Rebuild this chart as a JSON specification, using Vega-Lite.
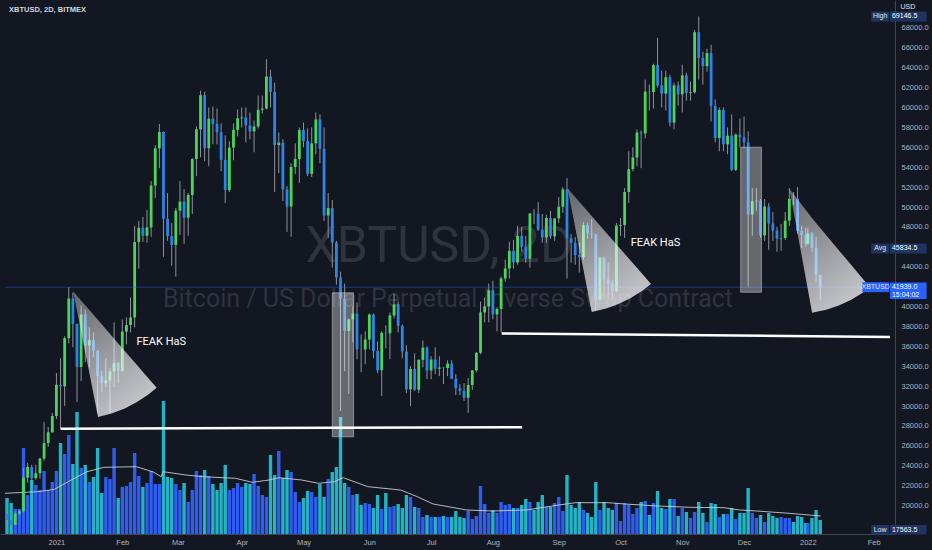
{
"$schema":"https://vega.github.io/schema/vega-lite/v6.json",
"width":895,"height":534,
"autosize":{"type":"none"},
"padding":{"left":0,"top":0,"right":37,"bottom":16},
"background":"#131722",
"config":{"view":{"stroke":null},"font":"Liberation Sans",
 "axis":{"grid":false,"ticks":false,"title":null,"labelOverlap":false,"labelFlush":false,"labelBound":false}},
"datasets":{
"candles":[
{"t":"2020-12-08","o":19170,"h":19300,"l":17950,"c":18550,"v":360},
{"t":"2020-12-10","o":18550,"h":18600,"l":17564,"c":18060,"v":310},
{"t":"2020-12-12","o":18060,"h":19400,"l":18000,"c":19170,"v":250},
{"t":"2020-12-14","o":19170,"h":19600,"l":19000,"c":19430,"v":250},
{"t":"2020-12-16","o":19430,"h":23800,"l":19300,"c":22800,"v":860},
{"t":"2020-12-18","o":22800,"h":24300,"l":22300,"c":23870,"v":390},
{"t":"2020-12-20","o":23870,"h":24100,"l":21900,"c":22750,"v":540},
{"t":"2020-12-22","o":22750,"h":24100,"l":22600,"c":23250,"v":490},
{"t":"2020-12-24","o":23250,"h":24800,"l":22700,"c":24710,"v":440},
{"t":"2020-12-26","o":24710,"h":28400,"l":24500,"c":26270,"v":630},
{"t":"2020-12-28","o":26270,"h":27900,"l":25900,"c":27360,"v":440},
{"t":"2020-12-30","o":27360,"h":29300,"l":27300,"c":29000,"v":520},
{"t":"2021-01-01","o":29000,"h":33300,"l":28700,"c":32130,"v":630},
{"t":"2021-01-03","o":32130,"h":34800,"l":27700,"c":31970,"v":910},
{"t":"2021-01-05","o":31970,"h":37000,"l":30000,"c":36820,"v":800},
{"t":"2021-01-07","o":36820,"h":41950,"l":36300,"c":40800,"v":990},
{"t":"2021-01-09","o":40800,"h":41400,"l":35900,"c":38240,"v":700},
{"t":"2021-01-11","o":38240,"h":38300,"l":30400,"c":33920,"v":1220},
{"t":"2021-01-13","o":33920,"h":40100,"l":32500,"c":39190,"v":660},
{"t":"2021-01-15","o":39190,"h":39700,"l":34400,"c":36070,"v":690},
{"t":"2021-01-17","o":36070,"h":37900,"l":33900,"c":36630,"v":520},
{"t":"2021-01-19","o":36630,"h":37400,"l":34900,"c":35550,"v":570},
{"t":"2021-01-21","o":35550,"h":35600,"l":29300,"c":33010,"v":860},
{"t":"2021-01-23","o":33010,"h":33500,"l":31400,"c":32290,"v":410},
{"t":"2021-01-25","o":32290,"h":34800,"l":31900,"c":32570,"v":570},
{"t":"2021-01-27","o":32570,"h":33800,"l":29300,"c":33470,"v":550},
{"t":"2021-01-29","o":33470,"h":38400,"l":31900,"c":34320,"v":860},
{"t":"2021-01-31","o":34320,"h":34400,"l":32300,"c":33540,"v":360},
{"t":"2021-02-02","o":33540,"h":38700,"l":33400,"c":37470,"v":470},
{"t":"2021-02-04","o":37470,"h":38900,"l":36200,"c":38140,"v":480},
{"t":"2021-02-06","o":38140,"h":40900,"l":37400,"c":38900,"v":520},
{"t":"2021-02-08","o":38900,"h":48100,"l":37900,"c":46480,"v":810},
{"t":"2021-02-10","o":46480,"h":48600,"l":43800,"c":47910,"v":580},
{"t":"2021-02-12","o":47910,"h":49000,"l":46500,"c":47110,"v":470},
{"t":"2021-02-14","o":47110,"h":49700,"l":46400,"c":47940,"v":510},
{"t":"2021-02-16","o":47940,"h":52600,"l":47000,"c":52150,"v":630},
{"t":"2021-02-18","o":52150,"h":56200,"l":50900,"c":55890,"v":500},
{"t":"2021-02-20","o":55890,"h":58350,"l":53900,"c":57540,"v":500},
{"t":"2021-02-22","o":57540,"h":57600,"l":45000,"c":48820,"v":1330},
{"t":"2021-02-24","o":48820,"h":51400,"l":46600,"c":47070,"v":570},
{"t":"2021-02-26","o":47070,"h":48400,"l":44100,"c":46190,"v":560},
{"t":"2021-02-28","o":46190,"h":49900,"l":43000,"c":49630,"v":500},
{"t":"2021-03-02","o":49630,"h":52600,"l":47200,"c":50540,"v":440},
{"t":"2021-03-04","o":50540,"h":51800,"l":46300,"c":48930,"v":510},
{"t":"2021-03-06","o":48930,"h":51400,"l":47100,"c":51210,"v":320},
{"t":"2021-03-08","o":51210,"h":54900,"l":49300,"c":54820,"v":440},
{"t":"2021-03-10","o":54820,"h":58100,"l":53100,"c":57810,"v":630},
{"t":"2021-03-12","o":57810,"h":61700,"l":55000,"c":61240,"v":590},
{"t":"2021-03-14","o":61240,"h":61600,"l":54600,"c":55910,"v":640},
{"t":"2021-03-16","o":55910,"h":60000,"l":54100,"c":58870,"v":580},
{"t":"2021-03-18","o":58870,"h":60100,"l":56300,"c":58350,"v":500},
{"t":"2021-03-20","o":58350,"h":59900,"l":56300,"c":57520,"v":440},
{"t":"2021-03-22","o":57520,"h":58400,"l":53600,"c":54740,"v":510},
{"t":"2021-03-24","o":54740,"h":57200,"l":50400,"c":51700,"v":690},
{"t":"2021-03-26","o":51700,"h":56600,"l":51500,"c":55970,"v":440},
{"t":"2021-03-28","o":55970,"h":58400,"l":54700,"c":57750,"v":460},
{"t":"2021-03-30","o":57750,"h":59800,"l":57100,"c":58920,"v":510},
{"t":"2021-04-01","o":58920,"h":60000,"l":58000,"c":59000,"v":470},
{"t":"2021-04-03","o":59000,"h":60000,"l":56500,"c":58210,"v":510},
{"t":"2021-04-05","o":58210,"h":59500,"l":56800,"c":57600,"v":500},
{"t":"2021-04-07","o":57600,"h":58700,"l":55500,"c":58090,"v":600},
{"t":"2021-04-09","o":58090,"h":61200,"l":57900,"c":59770,"v":480},
{"t":"2021-04-11","o":59770,"h":61200,"l":59400,"c":59890,"v":390},
{"t":"2021-04-13","o":59890,"h":64850,"l":59800,"c":63110,"v":370},
{"t":"2021-04-15","o":63110,"h":63800,"l":60000,"c":61570,"v":790},
{"t":"2021-04-17","o":61570,"h":62500,"l":51500,"c":56220,"v":590},
{"t":"2021-04-19","o":56220,"h":57500,"l":53400,"c":56470,"v":830},
{"t":"2021-04-21","o":56470,"h":56800,"l":50600,"c":51760,"v":560},
{"t":"2021-04-23","o":51760,"h":52100,"l":47500,"c":50050,"v":640},
{"t":"2021-04-25","o":50050,"h":54400,"l":47000,"c":54020,"v":620},
{"t":"2021-04-27","o":54020,"h":56400,"l":53300,"c":54820,"v":420},
{"t":"2021-04-29","o":54820,"h":58000,"l":52400,"c":57750,"v":320},
{"t":"2021-05-01","o":57750,"h":58500,"l":56000,"c":56630,"v":360},
{"t":"2021-05-03","o":56630,"h":57900,"l":53100,"c":53330,"v":430},
{"t":"2021-05-05","o":53330,"h":58000,"l":53000,"c":56400,"v":420},
{"t":"2021-05-07","o":56400,"h":59500,"l":55300,"c":58800,"v":370},
{"t":"2021-05-09","o":58800,"h":59300,"l":54400,"c":55860,"v":500},
{"t":"2021-05-11","o":55860,"h":58000,"l":48600,"c":49150,"v":370},
{"t":"2021-05-13","o":49150,"h":51400,"l":46900,"c":49880,"v":550},
{"t":"2021-05-15","o":49880,"h":50700,"l":43900,"c":46430,"v":620},
{"t":"2021-05-17","o":46430,"h":46600,"l":42200,"c":42910,"v":670},
{"t":"2021-05-19","o":42910,"h":43500,"l":29500,"c":40780,"v":1170},
{"t":"2021-05-21","o":40780,"h":42300,"l":33500,"c":37530,"v":510},
{"t":"2021-05-23","o":37530,"h":38800,"l":31200,"c":38710,"v":470},
{"t":"2021-05-25","o":38710,"h":40000,"l":36400,"c":39290,"v":390},
{"t":"2021-05-27","o":39290,"h":40400,"l":34700,"c":35700,"v":400},
{"t":"2021-05-29","o":35700,"h":37200,"l":33400,"c":35680,"v":290},
{"t":"2021-05-31","o":35680,"h":37500,"l":34200,"c":36680,"v":310},
{"t":"2021-06-02","o":36680,"h":39300,"l":35700,"c":39190,"v":300},
{"t":"2021-06-04","o":39190,"h":39300,"l":34800,"c":35520,"v":260},
{"t":"2021-06-06","o":35520,"h":36500,"l":33300,"c":33590,"v":390},
{"t":"2021-06-08","o":33590,"h":37500,"l":31000,"c":37350,"v":250},
{"t":"2021-06-10","o":37350,"h":38100,"l":35800,"c":37310,"v":410},
{"t":"2021-06-12","o":37310,"h":39400,"l":34700,"c":39100,"v":270},
{"t":"2021-06-14","o":39100,"h":41300,"l":38800,"c":40220,"v":280},
{"t":"2021-06-16","o":40220,"h":40500,"l":37400,"c":38050,"v":300},
{"t":"2021-06-18","o":38050,"h":38200,"l":34800,"c":35480,"v":260},
{"t":"2021-06-20","o":35480,"h":36100,"l":31300,"c":31680,"v":390},
{"t":"2021-06-22","o":31680,"h":34000,"l":30000,"c":33720,"v":370},
{"t":"2021-06-24","o":33720,"h":35300,"l":31500,"c":31640,"v":270},
{"t":"2021-06-26","o":31640,"h":34700,"l":31300,"c":34640,"v":260},
{"t":"2021-06-28","o":34640,"h":36600,"l":33900,"c":35870,"v":170},
{"t":"2021-06-30","o":35870,"h":36000,"l":32700,"c":33570,"v":190},
{"t":"2021-07-02","o":33570,"h":35000,"l":32700,"c":34670,"v":170},
{"t":"2021-07-04","o":34670,"h":35900,"l":33200,"c":33750,"v":170},
{"t":"2021-07-06","o":33750,"h":35000,"l":33000,"c":33860,"v":170},
{"t":"2021-07-08","o":33860,"h":33900,"l":32200,"c":33820,"v":180},
{"t":"2021-07-10","o":33820,"h":34600,"l":33000,"c":34260,"v":170},
{"t":"2021-07-12","o":34260,"h":34600,"l":32700,"c":32730,"v":170},
{"t":"2021-07-14","o":32730,"h":33200,"l":31100,"c":31780,"v":230},
{"t":"2021-07-16","o":31780,"h":32200,"l":31100,"c":31520,"v":170},
{"t":"2021-07-18","o":31520,"h":32300,"l":30500,"c":30820,"v":160},
{"t":"2021-07-20","o":30820,"h":32800,"l":29300,"c":32110,"v":230},
{"t":"2021-07-22","o":32110,"h":33600,"l":31600,"c":33580,"v":150},
{"t":"2021-07-24","o":33580,"h":35400,"l":33400,"c":35350,"v":180},
{"t":"2021-07-26","o":35350,"h":40500,"l":35200,"c":39410,"v":480},
{"t":"2021-07-28","o":39410,"h":40900,"l":38400,"c":40010,"v":300},
{"t":"2021-07-30","o":40010,"h":42300,"l":38400,"c":41630,"v":210},
{"t":"2021-08-01","o":41630,"h":42600,"l":38700,"c":39200,"v":240},
{"t":"2021-08-03","o":39200,"h":39900,"l":37500,"c":39750,"v":210},
{"t":"2021-08-05","o":39750,"h":43000,"l":37400,"c":42820,"v":320},
{"t":"2021-08-07","o":42820,"h":44700,"l":42500,"c":43820,"v":290},
{"t":"2021-08-09","o":43820,"h":46500,"l":42800,"c":45600,"v":300},
{"t":"2021-08-11","o":45600,"h":46700,"l":43800,"c":44430,"v":260},
{"t":"2021-08-13","o":44430,"h":48100,"l":44200,"c":47100,"v":260},
{"t":"2021-08-15","o":47100,"h":48000,"l":45500,"c":46000,"v":290},
{"t":"2021-08-17","o":46000,"h":47100,"l":44400,"c":44800,"v":350},
{"t":"2021-08-19","o":44800,"h":49400,"l":43900,"c":49340,"v":320},
{"t":"2021-08-21","o":49340,"h":49800,"l":48300,"c":49320,"v":240},
{"t":"2021-08-23","o":49320,"h":50500,"l":47600,"c":47710,"v":320},
{"t":"2021-08-25","o":47710,"h":49300,"l":46400,"c":46940,"v":390},
{"t":"2021-08-27","o":46940,"h":49200,"l":46400,"c":48900,"v":270},
{"t":"2021-08-29","o":48900,"h":49600,"l":46800,"c":47050,"v":270},
{"t":"2021-08-31","o":47050,"h":48900,"l":46600,"c":48850,"v":310},
{"t":"2021-09-02","o":48850,"h":51000,"l":48400,"c":50030,"v":370},
{"t":"2021-09-04","o":50030,"h":52000,"l":49400,"c":51770,"v":230},
{"t":"2021-09-06","o":51770,"h":52900,"l":42800,"c":46860,"v":590},
{"t":"2021-09-08","o":46860,"h":47300,"l":44400,"c":46400,"v":290},
{"t":"2021-09-10","o":46400,"h":47000,"l":44200,"c":45170,"v":260},
{"t":"2021-09-12","o":45170,"h":46400,"l":43400,"c":44960,"v":320},
{"t":"2021-09-14","o":44960,"h":48500,"l":44700,"c":48180,"v":240},
{"t":"2021-09-16","o":48180,"h":48400,"l":46800,"c":47340,"v":210},
{"t":"2021-09-18","o":47340,"h":48800,"l":46800,"c":47260,"v":170},
{"t":"2021-09-20","o":47260,"h":47300,"l":39600,"c":40690,"v":520},
{"t":"2021-09-22","o":40690,"h":45000,"l":40600,"c":44900,"v":240},
{"t":"2021-09-24","o":44900,"h":45000,"l":40700,"c":42720,"v":320},
{"t":"2021-09-26","o":42720,"h":44400,"l":40800,"c":42240,"v":260},
{"t":"2021-09-28","o":42240,"h":42600,"l":40800,"c":41560,"v":240},
{"t":"2021-09-30","o":41560,"h":48400,"l":41400,"c":48120,"v":310},
{"t":"2021-10-02","o":48120,"h":48900,"l":47100,"c":48200,"v":130},
{"t":"2021-10-04","o":48200,"h":51900,"l":46900,"c":51510,"v":310},
{"t":"2021-10-06","o":51510,"h":55600,"l":50400,"c":53810,"v":290},
{"t":"2021-10-08","o":53810,"h":56000,"l":53600,"c":54970,"v":200},
{"t":"2021-10-10","o":54970,"h":57800,"l":54100,"c":57480,"v":260},
{"t":"2021-10-12","o":57480,"h":57700,"l":53900,"c":57400,"v":320},
{"t":"2021-10-14","o":57400,"h":62800,"l":56900,"c":61590,"v":330},
{"t":"2021-10-16","o":61590,"h":62300,"l":59700,"c":61550,"v":190},
{"t":"2021-10-18","o":61550,"h":64400,"l":59900,"c":64260,"v":310},
{"t":"2021-10-20","o":64260,"h":67000,"l":62000,"c":62210,"v":430},
{"t":"2021-10-22","o":62210,"h":63700,"l":60000,"c":61390,"v":260},
{"t":"2021-10-24","o":61390,"h":63700,"l":59700,"c":63040,"v":250},
{"t":"2021-10-26","o":63040,"h":63300,"l":58100,"c":58480,"v":350},
{"t":"2021-10-28","o":58480,"h":62500,"l":57800,"c":62230,"v":350},
{"t":"2021-10-30","o":62230,"h":62600,"l":60200,"c":61320,"v":180},
{"t":"2021-11-01","o":61320,"h":64300,"l":59500,"c":63230,"v":260},
{"t":"2021-11-03","o":63230,"h":63500,"l":60700,"c":61450,"v":220},
{"t":"2021-11-05","o":61450,"h":62600,"l":60700,"c":61530,"v":160},
{"t":"2021-11-07","o":61530,"h":67800,"l":61400,"c":67570,"v":220},
{"t":"2021-11-09","o":67570,"h":69150,"l":62800,"c":64980,"v":320},
{"t":"2021-11-11","o":64980,"h":65600,"l":62300,"c":64160,"v":210},
{"t":"2021-11-13","o":64160,"h":65900,"l":63600,"c":65470,"v":120},
{"t":"2021-11-15","o":65470,"h":66300,"l":58600,"c":60160,"v":310},
{"t":"2021-11-17","o":60160,"h":60800,"l":56500,"c":56940,"v":300},
{"t":"2021-11-19","o":56940,"h":60000,"l":55600,"c":59760,"v":170},
{"t":"2021-11-21","o":59760,"h":60000,"l":55600,"c":56300,"v":200},
{"t":"2021-11-23","o":56300,"h":58000,"l":55300,"c":57170,"v":200},
{"t":"2021-11-25","o":57170,"h":59300,"l":53600,"c":53730,"v":260},
{"t":"2021-11-27","o":53730,"h":57400,"l":53600,"c":57270,"v":150},
{"t":"2021-11-29","o":57270,"h":58900,"l":56000,"c":57010,"v":210},
{"t":"2021-12-01","o":57010,"h":59100,"l":55900,"c":56510,"v":210},
{"t":"2021-12-03","o":56510,"h":57600,"l":42000,"c":49250,"v":460},
{"t":"2021-12-05","o":49250,"h":51900,"l":47100,"c":50580,"v":210},
{"t":"2021-12-07","o":50580,"h":51900,"l":49600,"c":50640,"v":160},
{"t":"2021-12-09","o":50640,"h":50800,"l":46900,"c":47140,"v":190},
{"t":"2021-12-11","o":47140,"h":50800,"l":46600,"c":50050,"v":120},
{"t":"2021-12-13","o":50050,"h":50400,"l":45700,"c":48340,"v":210},
{"t":"2021-12-15","o":48340,"h":49500,"l":46600,"c":47630,"v":180},
{"t":"2021-12-17","o":47630,"h":48000,"l":45500,"c":46830,"v":160},
{"t":"2021-12-19","o":46830,"h":48300,"l":45600,"c":46880,"v":170},
{"t":"2021-12-21","o":46880,"h":49500,"l":46700,"c":48630,"v":160},
{"t":"2021-12-23","o":48630,"h":51900,"l":48100,"c":50820,"v":160},
{"t":"2021-12-25","o":50820,"h":51500,"l":50200,"c":50810,"v":120},
{"t":"2021-12-27","o":50810,"h":52000,"l":47300,"c":47590,"v":180},
{"t":"2021-12-29","o":47590,"h":48100,"l":45900,"c":47180,"v":170},
{"t":"2021-12-31","o":47180,"h":47900,"l":46000,"c":46310,"v":110},
{"t":"2022-01-01","o":46310,"h":47900,"l":46200,"c":47350,"v":110},
{"t":"2022-01-03","o":47350,"h":47500,"l":45500,"c":45900,"v":160},
{"t":"2022-01-05","o":45900,"h":47000,"l":42500,"c":43160,"v":240},
{"t":"2022-01-07","o":43160,"h":43200,"l":40600,"c":41939,"v":140}
],
"vma":[
{"t":"2020-12-07T01:00:00Z","v":407},{"t":"2020-12-23T00:00:00Z","v":423},{"t":"2020-12-31T01:00:00Z","v":447},
{"t":"2021-01-08T05:00:00Z","v":540},{"t":"2021-01-15T21:00:00Z","v":623},{"t":"2021-01-24T01:00:00Z","v":667},
{"t":"2021-02-08T22:00:00Z","v":673},{"t":"2021-02-17T02:00:00Z","v":620},{"t":"2021-02-20T22:00:00Z","v":573},
{"t":"2021-02-21T21:00:00Z","v":623},{"t":"2021-03-04T22:00:00Z","v":590},{"t":"2021-03-13T02:00:00Z","v":573},
{"t":"2021-03-28T23:00:00Z","v":557},{"t":"2021-04-06T02:00:00Z","v":517},{"t":"2021-04-14T06:00:00Z","v":540},
{"t":"2021-04-19T02:00:00Z","v":563},{"t":"2021-04-30T03:00:00Z","v":540},{"t":"2021-05-08T07:00:00Z","v":507},
{"t":"2021-05-15T23:00:00Z","v":523},{"t":"2021-05-20T07:00:00Z","v":563},{"t":"2021-06-01T07:00:00Z","v":473},
{"t":"2021-06-17T04:00:00Z","v":440},{"t":"2021-06-25T07:00:00Z","v":373},{"t":"2021-07-03T00:00:00Z","v":300},
{"t":"2021-07-19T08:00:00Z","v":240},{"t":"2021-07-31T20:00:00Z","v":230},{"t":"2021-08-17T04:00:00Z","v":240},
{"t":"2021-09-02T00:00:00Z","v":290},{"t":"2021-09-10T04:00:00Z","v":313},{"t":"2021-09-26T00:00:00Z","v":313},
{"t":"2021-10-04T04:00:00Z","v":300},{"t":"2021-10-20T01:00:00Z","v":280},{"t":"2021-11-04T21:00:00Z","v":267},
{"t":"2021-11-21T05:00:00Z","v":263},{"t":"2021-11-28T21:00:00Z","v":240},{"t":"2021-12-07T01:00:00Z","v":230},
{"t":"2021-12-22T22:00:00Z","v":207},{"t":"2022-01-07T06:00:00Z","v":180}
],
"tri":[
{"shape":"a","t":"2021-01-09T04:00:00Z","p1":41508,"p2":41508},
{"shape":"a","t":"2021-01-21T05:20:00Z","p1":28885,"p2":38633},
{"shape":"a","t":"2021-01-28T04:30:00Z","p1":29277,"p2":36965},
{"shape":"a","t":"2021-02-03T04:30:00Z","p1":29749,"p2":35538},
{"shape":"a","t":"2021-02-08T21:40:00Z","p1":30372,"p2":34171},
{"shape":"a","t":"2021-02-14T08:00:00Z","p1":31096,"p2":32874},
{"shape":"a","t":"2021-02-18T16:50:00Z","p1":31829,"p2":31829},
{"shape":"b","t":"2021-09-06T07:40:00Z","p1":51859,"p2":51859},
{"shape":"b","t":"2021-09-18T00:00:00Z","p1":39447,"p2":49095},
{"shape":"b","t":"2021-09-25T01:10:00Z","p1":39809,"p2":47417},
{"shape":"b","t":"2021-10-01T00:15:00Z","p1":40251,"p2":46010},
{"shape":"b","t":"2021-10-06T18:30:00Z","p1":40834,"p2":44643},
{"shape":"b","t":"2021-10-12T04:50:00Z","p1":41538,"p2":43357},
{"shape":"b","t":"2021-10-16T19:25:00Z","p1":42261,"p2":42261},
{"shape":"c","t":"2021-12-23T01:10:00Z","p1":51829,"p2":51829},
{"shape":"c","t":"2022-01-03T01:40:00Z","p1":39367,"p2":48864},
{"shape":"c","t":"2022-01-09T22:20:00Z","p1":39668,"p2":47166},
{"shape":"c","t":"2022-01-16T00:45:00Z","p1":40090,"p2":45658},
{"shape":"c","t":"2022-01-21T21:20:00Z","p1":40653,"p2":44211},
{"shape":"c","t":"2022-01-27T11:00:00Z","p1":41350,"p2":42844},
{"shape":"c","t":"2022-01-31T06:15:00Z","p1":41910,"p2":41910}
],
"boxes":[
{"t":"2021-05-15T00:00:00Z","t2":"2021-05-25T08:00:00Z","p1":26905,"p2":41377},
{"t":"2021-11-29T08:50:00Z","t2":"2021-12-09T11:00:00Z","p1":41437,"p2":56010}
],
"levels":[
{"t":"2021-01-03T00:00:00Z","t2":"2021-08-15T05:20:00Z","p":27710,"p2":27870},
{"t":"2021-08-05T06:45:00Z","t2":"2022-02-09T21:40:00Z","p":37290,"p2":36940}
],
"pline":[{"t":"2020-12-07T00:30:00Z","t2":"2022-02-09T21:40:00Z","p":41939,"p2":41939}],
"notes":[
{"t":"2021-02-08T21:40:00Z","p":36480,"text":"FEAK HaS"},
{"t":"2021-10-06T23:00:00Z","p":46400,"text":"FEAK HaS"}
],
"wm1":[{"t":"2021-07-05T21:00:00Z","p":44520,"text":"XBTUSD, 2D"}],
"wm2":[{"t":"2021-07-10T05:00:00Z","p":39900,"text":"Bitcoin / US Dollar Perpetual Inverse Swap Contract"}],
"header":[{"t":"2020-12-08T22:45:00Z","p":69600,"text":"XBTUSD, 2D, BITMEX"}],
"badges":[
{"t":"2022-01-31T18:30:00Z","t2":"2022-02-09T10:05:00Z","p1":68650,"p2":69650,"kind":"stat"},
{"t":"2022-02-09T21:40:00Z","t2":"2022-02-27T16:05:00Z","p1":68650,"p2":69650,"kind":"stat"},
{"t":"2022-01-31T18:30:00Z","t2":"2022-02-09T10:05:00Z","p1":45334,"p2":46335,"kind":"stat"},
{"t":"2022-02-09T21:40:00Z","t2":"2022-02-27T16:05:00Z","p1":45334,"p2":46335,"kind":"stat"},
{"t":"2022-01-27T10:50:00Z","t2":"2022-02-09T10:05:00Z","p1":41440,"p2":42440,"kind":"last"},
{"t":"2022-02-09T21:40:00Z","t2":"2022-02-27T16:05:00Z","p1":40754,"p2":42412,"kind":"last"},
{"t":"2022-01-31T18:30:00Z","t2":"2022-02-09T10:05:00Z","p1":17090,"p2":18040,"kind":"stat"},
{"t":"2022-02-09T21:40:00Z","t2":"2022-02-27T16:05:00Z","p1":17090,"p2":18040,"kind":"stat"}
],
"blabel":[
{"t":"2022-02-05T02:25:00Z","p":69146,"text":"High"},
{"t":"2022-02-05T02:25:00Z","p":45834,"text":"Avg"},
{"t":"2022-02-02T22:30:00Z","p":41939,"text":"XBTUSD"},
{"t":"2022-02-05T02:25:00Z","p":17563,"text":"Low"},
{"t":"2022-02-18T13:10:00Z","p":70150,"text":"USD"}
],
"bvalue":[
{"t":"2022-02-10T20:40:00Z","p":69146,"text":"69146.5"},
{"t":"2022-02-10T20:40:00Z","p":45834,"text":"45834.5"},
{"t":"2022-02-10T20:40:00Z","p":41960,"text":"41939.0"},
{"t":"2022-02-10T20:40:00Z","p":41186,"text":"15:04:02"},
{"t":"2022-02-10T20:40:00Z","p":17563,"text":"17563.5"}
]
},
"encoding":{"x":{"field":"t","type":"temporal",
 "scale":{"type":"utc","domain":[{"year":2020,"month":12,"date":7,"hours":0,"minutes":30,"utc":true},{"year":2022,"month":2,"date":9,"hours":21,"minutes":40,"utc":true}]},
 "axis":{"title":null,"values":[
  {"year":2021,"month":1,"date":1,"utc":true},{"year":2021,"month":2,"date":2,"utc":true},{"year":2021,"month":3,"date":1,"utc":true},
  {"year":2021,"month":4,"date":1,"utc":true},{"year":2021,"month":5,"date":1,"utc":true},{"year":2021,"month":6,"date":2,"utc":true},
  {"year":2021,"month":7,"date":2,"utc":true},{"year":2021,"month":8,"date":1,"utc":true},{"year":2021,"month":9,"date":2,"utc":true},
  {"year":2021,"month":10,"date":2,"utc":true},{"year":2021,"month":11,"date":1,"utc":true},{"year":2021,"month":12,"date":1,"utc":true},
  {"year":2022,"month":1,"date":1,"utc":true},{"year":2022,"month":2,"date":2,"utc":true}],
  "labelExpr":"utcFormat(datum.value, '%m') === '01' ? utcFormat(datum.value, '%Y') : utcFormat(datum.value, '%b')",
  "ticks":false,"grid":false,"domain":true,"domainColor":"#434651","labelColor":"#b2b5be","labelFontSize":7.5,"labelPadding":4,"labelFlush":false,"labelOverlap":false}}},
"layer":[
 {"layer":[
  {"data":{"name":"candles"},"mark":{"type":"bar","size":3.4},
   "encoding":{"y":{"field":"v","type":"quantitative","scale":{"domain":[0,5340]},"axis":null},
    "color":{"condition":{"test":"datum.c >= datum.o","value":"#2f5df0"},"value":"#22b4c6"}}},
  {"data":{"name":"vma"},"mark":{"type":"line","color":"#d0d3da","strokeWidth":1,"opacity":0.85},
   "encoding":{"y":{"field":"v","type":"quantitative","scale":{"domain":[0,5340]},"axis":null}}}
 ]},
 {"layer":[
  {"data":{"name":"wm1"},"mark":{"type":"text","font":"Roboto","fontSize":50,"color":"#2f333e","align":"center","baseline":"alphabetic"},
   "encoding":{"y":{"field":"p","type":"quantitative","scale":{"domain":[17136,70804]},
     "axis":{"orient":"right","title":null,"values":[20000,22000,24000,26000,28000,30000,32000,34000,36000,38000,40000,44000,48000,50000,52000,54000,56000,58000,60000,62000,64000,66000,68000],
      "format":".1f","ticks":false,"grid":false,"domain":true,"domainColor":"#434651","labelColor":"#b2b5be","labelFontSize":7.5,"labelPadding":6,"labelAlign":"left","labelOverlap":false,"labelFlush":false}},
    "text":{"field":"text"}}},
  {"data":{"name":"wm2"},"mark":{"type":"text","font":"Roboto","fontSize":25,"color":"#2f333e","align":"center","baseline":"alphabetic"},
   "encoding":{"y":{"field":"p","type":"quantitative","scale":{"domain":[17136,70804]},
     "axis":{"orient":"right","title":null,"values":[20000,22000,24000,26000,28000,30000,32000,34000,36000,38000,40000,44000,48000,50000,52000,54000,56000,58000,60000,62000,64000,66000,68000],
      "format":".1f","ticks":false,"grid":false,"domain":true,"domainColor":"#434651","labelColor":"#b2b5be","labelFontSize":7.5,"labelPadding":6,"labelAlign":"left","labelOverlap":false,"labelFlush":false}},"text":{"field":"text"}}},
  {"data":{"name":"candles"},"mark":{"type":"rule","color":"#8f929b","strokeWidth":1},
   "encoding":{"y":{"field":"l","type":"quantitative","scale":{"domain":[17136,70804]},
     "axis":{"orient":"right","title":null,"values":[20000,22000,24000,26000,28000,30000,32000,34000,36000,38000,40000,44000,48000,50000,52000,54000,56000,58000,60000,62000,64000,66000,68000],
      "format":".1f","ticks":false,"grid":false,"domain":true,"domainColor":"#434651","labelColor":"#b2b5be","labelFontSize":7.5,"labelPadding":6,"labelAlign":"left","labelOverlap":false,"labelFlush":false}},"y2":{"field":"h"}}},
  {"data":{"name":"candles"},"mark":{"type":"bar","size":2.8},
   "encoding":{"y":{"field":"o","type":"quantitative","scale":{"domain":[17136,70804]},
     "axis":{"orient":"right","title":null,"values":[20000,22000,24000,26000,28000,30000,32000,34000,36000,38000,40000,44000,48000,50000,52000,54000,56000,58000,60000,62000,64000,66000,68000],
      "format":".1f","ticks":false,"grid":false,"domain":true,"domainColor":"#434651","labelColor":"#b2b5be","labelFontSize":7.5,"labelPadding":6,"labelAlign":"left","labelOverlap":false,"labelFlush":false}},"y2":{"field":"c"},
    "color":{"condition":{"test":"datum.c >= datum.o","value":"#48d75a"},"value":"#2b84e8"}}},
  {"data":{"name":"pline"},"mark":{"type":"rule","color":"#2962ff","strokeWidth":1,"opacity":0.45},
   "encoding":{"y":{"field":"p","type":"quantitative","scale":{"domain":[17136,70804]},
     "axis":{"orient":"right","title":null,"values":[20000,22000,24000,26000,28000,30000,32000,34000,36000,38000,40000,44000,48000,50000,52000,54000,56000,58000,60000,62000,64000,66000,68000],
      "format":".1f","ticks":false,"grid":false,"domain":true,"domainColor":"#434651","labelColor":"#b2b5be","labelFontSize":7.5,"labelPadding":6,"labelAlign":"left","labelOverlap":false,"labelFlush":false}},"y2":{"field":"p2"},"x2":{"field":"t2"}}},
  {"data":{"name":"boxes"},"mark":{"type":"rect","fill":"#ffffff","fillOpacity":0.35,"stroke":"#c8cad0","strokeOpacity":0.55,"strokeWidth":1},
   "encoding":{"y":{"field":"p1","type":"quantitative","scale":{"domain":[17136,70804]},
     "axis":{"orient":"right","title":null,"values":[20000,22000,24000,26000,28000,30000,32000,34000,36000,38000,40000,44000,48000,50000,52000,54000,56000,58000,60000,62000,64000,66000,68000],
      "format":".1f","ticks":false,"grid":false,"domain":true,"domainColor":"#434651","labelColor":"#b2b5be","labelFontSize":7.5,"labelPadding":6,"labelAlign":"left","labelOverlap":false,"labelFlush":false}},"y2":{"field":"p2"},"x2":{"field":"t2"}}},
  {"data":{"name":"tri"},"mark":{"type":"area","interpolate":"linear",
    "color":{"gradient":"linear","x1":0.1,"y1":0,"x2":0.6,"y2":1,"stops":[{"offset":0,"color":"rgba(255,255,255,0.35)"},{"offset":1,"color":"rgba(240,240,243,0.8)"}]}},
   "encoding":{"y":{"field":"p1","type":"quantitative","scale":{"domain":[17136,70804]},
     "axis":{"orient":"right","title":null,"values":[20000,22000,24000,26000,28000,30000,32000,34000,36000,38000,40000,44000,48000,50000,52000,54000,56000,58000,60000,62000,64000,66000,68000],
      "format":".1f","ticks":false,"grid":false,"domain":true,"domainColor":"#434651","labelColor":"#b2b5be","labelFontSize":7.5,"labelPadding":6,"labelAlign":"left","labelOverlap":false,"labelFlush":false}},"y2":{"field":"p2"},"detail":{"field":"shape"}}},
  {"data":{"name":"levels"},"mark":{"type":"rule","color":"#ffffff","strokeWidth":2.5},
   "encoding":{"y":{"field":"p","type":"quantitative","scale":{"domain":[17136,70804]},
     "axis":{"orient":"right","title":null,"values":[20000,22000,24000,26000,28000,30000,32000,34000,36000,38000,40000,44000,48000,50000,52000,54000,56000,58000,60000,62000,64000,66000,68000],
      "format":".1f","ticks":false,"grid":false,"domain":true,"domainColor":"#434651","labelColor":"#b2b5be","labelFontSize":7.5,"labelPadding":6,"labelAlign":"left","labelOverlap":false,"labelFlush":false}},"y2":{"field":"p2"},"x2":{"field":"t2"}}},
  {"data":{"name":"notes"},"mark":{"type":"text","font":"Roboto","fontSize":11,"color":"#ffffff","align":"left","baseline":"middle"},
   "encoding":{"y":{"field":"p","type":"quantitative","scale":{"domain":[17136,70804]},
     "axis":{"orient":"right","title":null,"values":[20000,22000,24000,26000,28000,30000,32000,34000,36000,38000,40000,44000,48000,50000,52000,54000,56000,58000,60000,62000,64000,66000,68000],
      "format":".1f","ticks":false,"grid":false,"domain":true,"domainColor":"#434651","labelColor":"#b2b5be","labelFontSize":7.5,"labelPadding":6,"labelAlign":"left","labelOverlap":false,"labelFlush":false}},"text":{"field":"text"}}},
  {"data":{"name":"header"},"mark":{"type":"text","fontSize":7.5,"fontWeight":"bold","color":"#d1d4dc","align":"left","baseline":"alphabetic"},
   "encoding":{"y":{"field":"p","type":"quantitative","scale":{"domain":[17136,70804]},
     "axis":{"orient":"right","title":null,"values":[20000,22000,24000,26000,28000,30000,32000,34000,36000,38000,40000,44000,48000,50000,52000,54000,56000,58000,60000,62000,64000,66000,68000],
      "format":".1f","ticks":false,"grid":false,"domain":true,"domainColor":"#434651","labelColor":"#b2b5be","labelFontSize":7.5,"labelPadding":6,"labelAlign":"left","labelOverlap":false,"labelFlush":false}},"text":{"field":"text"}}},
  {"data":{"name":"badges"},"mark":{"type":"rect"},
   "encoding":{"y":{"field":"p1","type":"quantitative","scale":{"domain":[17136,70804]},
     "axis":{"orient":"right","title":null,"values":[20000,22000,24000,26000,28000,30000,32000,34000,36000,38000,40000,44000,48000,50000,52000,54000,56000,58000,60000,62000,64000,66000,68000],
      "format":".1f","ticks":false,"grid":false,"domain":true,"domainColor":"#434651","labelColor":"#b2b5be","labelFontSize":7.5,"labelPadding":6,"labelAlign":"left","labelOverlap":false,"labelFlush":false}},"y2":{"field":"p2"},"x2":{"field":"t2"},
    "color":{"condition":{"test":"datum.kind === 'last'","value":"#2962ff"},"value":"#1f3461"}}},
  {"data":{"name":"blabel"},"mark":{"type":"text","fontSize":7,"color":"#e0e3eb","align":"center","baseline":"middle"},
   "encoding":{"y":{"field":"p","type":"quantitative","scale":{"domain":[17136,70804]},
     "axis":{"orient":"right","title":null,"values":[20000,22000,24000,26000,28000,30000,32000,34000,36000,38000,40000,44000,48000,50000,52000,54000,56000,58000,60000,62000,64000,66000,68000],
      "format":".1f","ticks":false,"grid":false,"domain":true,"domainColor":"#434651","labelColor":"#b2b5be","labelFontSize":7.5,"labelPadding":6,"labelAlign":"left","labelOverlap":false,"labelFlush":false}},"text":{"field":"text"}}},
  {"data":{"name":"bvalue"},"mark":{"type":"text","fontSize":7,"color":"#ffffff","align":"left","baseline":"middle"},
   "encoding":{"y":{"field":"p","type":"quantitative","scale":{"domain":[17136,70804]},
     "axis":{"orient":"right","title":null,"values":[20000,22000,24000,26000,28000,30000,32000,34000,36000,38000,40000,44000,48000,50000,52000,54000,56000,58000,60000,62000,64000,66000,68000],
      "format":".1f","ticks":false,"grid":false,"domain":true,"domainColor":"#434651","labelColor":"#b2b5be","labelFontSize":7.5,"labelPadding":6,"labelAlign":"left","labelOverlap":false,"labelFlush":false}},"text":{"field":"text"}}}
 ]}
],
"resolve":{"scale":{"y":"independent"}}
}
